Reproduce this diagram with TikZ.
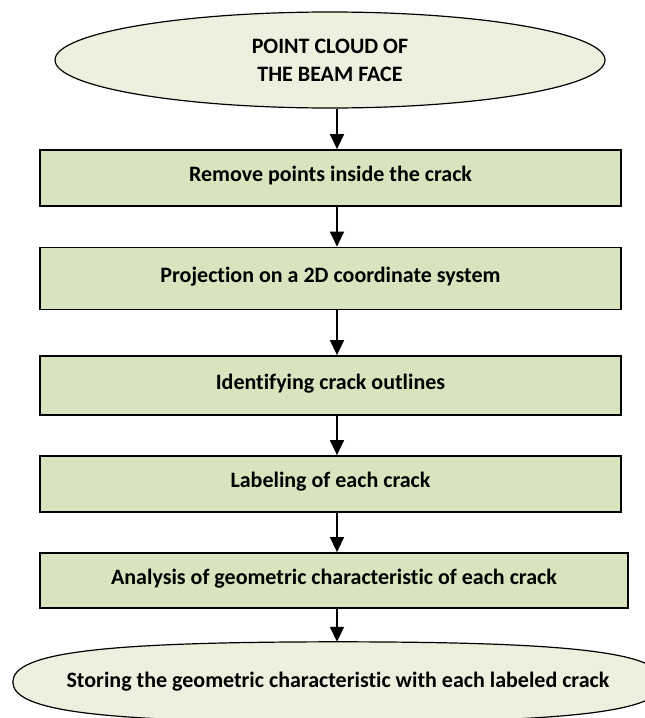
\documentclass[tikz,border=0pt]{standalone}
\usepackage{fontspec}
\setmainfont{Carlito}[Ligatures={NoCommon}]
\usetikzlibrary{arrows.meta,shapes.geometric}
\definecolor{boxfill}{HTML}{D7E4BD}
\definecolor{ovalfill}{HTML}{EBF1DE}
\tikzset{
  stepbox/.style={draw=black, line width=1.8pt, fill=boxfill, rectangle,
    inner sep=0pt, font=\bfseries\fontsize{22}{26}\selectfont,
    text height=15pt, text depth=8pt},
  oval/.style={draw=black, line width=1.2pt, fill=ovalfill, ellipse,
    inner sep=0pt, align=center, font=\bfseries\fontsize{22}{28}\selectfont},
  flow/.style={draw=black, line width=1.5pt, -{Triangle[length=15pt,width=14pt]}},
  storetext/.style={rectangle, inner sep=0pt, font=\bfseries\fontsize{22}{26}\selectfont}
}
\begin{document}
\begin{tikzpicture}[x=1pt,y=-1pt]
\useasboundingbox (0,0) rectangle (645,718);
\clip (0,0) rectangle (645,718);
\coordinate (ax) at (337,0);
% top oval
\node[oval, minimum width=550pt, minimum height=96pt] (cloud) at (330,60)
  {POINT CLOUD OF\\THE BEAM FACE};
% process boxes
\node[stepbox, minimum width=581pt, minimum height=56pt] (b1) at (330.5,178)
  {Remove points inside the crack};
\node[stepbox, minimum width=581pt, minimum height=62pt] (b2) at (330.5,278.5)
  {Projection on a 2D coordinate system};
\node[stepbox, minimum width=581pt, minimum height=59pt] (b3) at (330.5,385.5)
  {Identifying crack outlines};
\node[stepbox, minimum width=581pt, minimum height=56pt] (b4) at (330.5,484)
  {Labeling of each crack};
\node[stepbox, minimum width=588pt, minimum height=55pt] (b5) at (334,580.5)
  {Analysis of geometric characteristic of each crack};
% bottom oval (blunt ends, partly outside the picture)
\node[storetext, minimum width=650pt, minimum height=80pt] (store) at (338,682) {};
\draw[line width=1.2pt, fill=ovalfill]
  (store.west) .. controls (13,652) and (105,642) .. (store.north)
  .. controls (571,642) and (663,652) .. (store.east)
  .. controls (663,712) and (571,722) .. (store.south)
  .. controls (105,722) and (13,712) .. (store.west) -- cycle;
\node[storetext] at (store.center)
  {Storing the geometric characteristic with each labeled crack};
% connectors
\draw[flow] (cloud.south -| ax) -- (b1.north -| ax);
\draw[flow] (b1.south -| ax) -- (b2.north -| ax);
\draw[flow] (b2.south -| ax) -- (b3.north -| ax);
\draw[flow] (b3.south -| ax) -- (b4.north -| ax);
\draw[flow] (b4.south -| ax) -- (b5.north -| ax);
\draw[flow] (b5.south -| ax) -- (store.north -| ax);
\end{tikzpicture}
\end{document}
